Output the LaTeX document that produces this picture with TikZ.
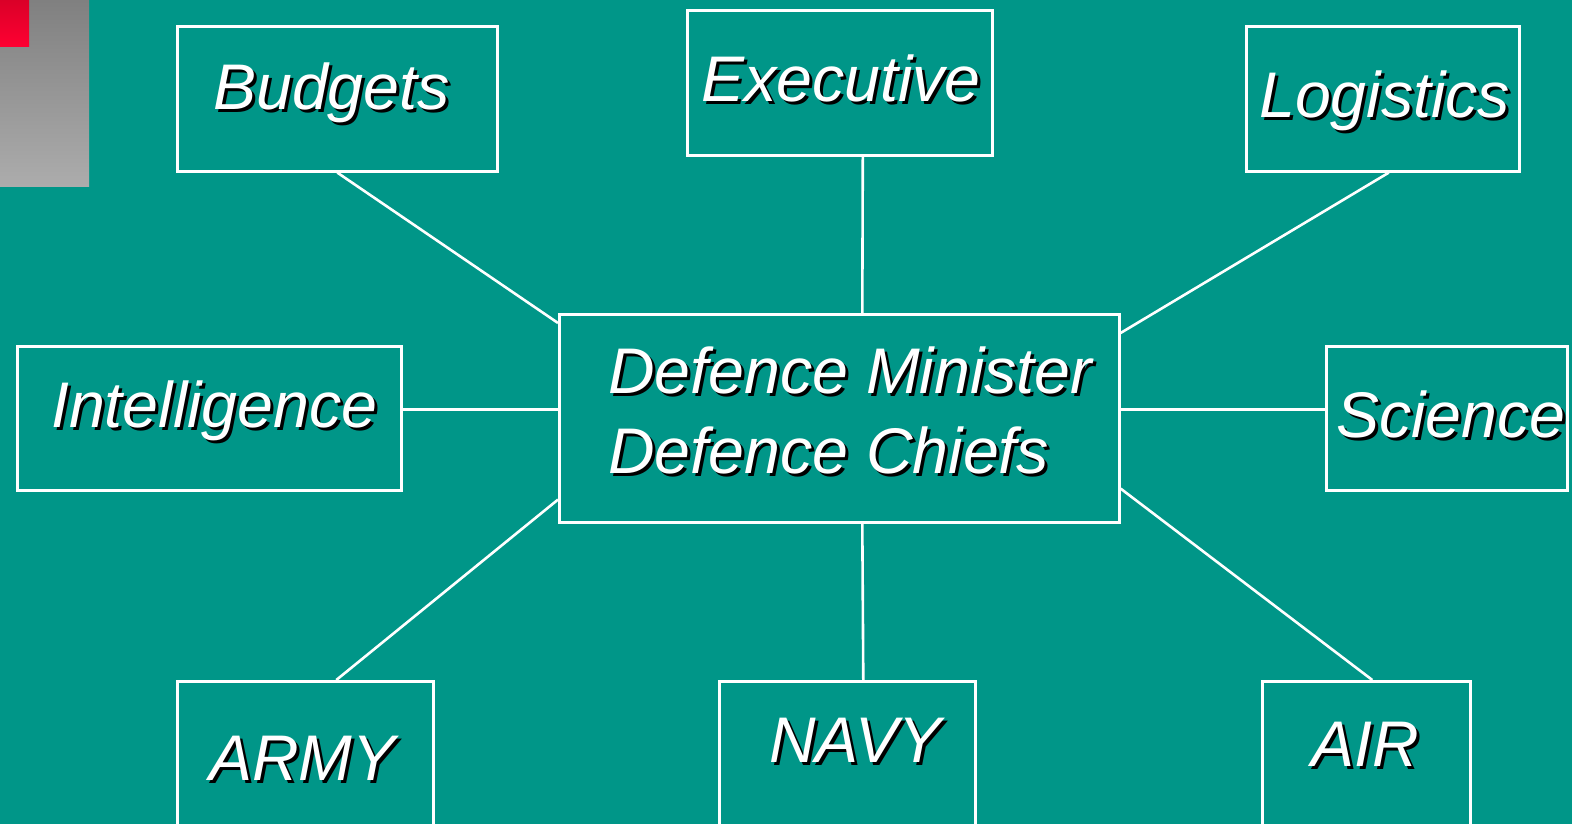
\documentclass[tikz,border=0pt]{standalone}
\usepackage{fontspec}
\setmainfont{Liberation Sans}
\definecolor{teal0}{RGB}{0,150,136}
\definecolor{redtop}{RGB}{218,0,40}
\definecolor{redbot}{RGB}{255,0,50}
\definecolor{graytop}{RGB}{128,128,128}
\definecolor{graybot}{RGB}{172,172,172}
\newcommand\bigfont{\fontsize{64.5}{76}\selectfont\itshape}
\newcommand\shd[1]{\makebox[0pt][l]{\kern3pt\raisebox{-3pt}{\color{black}#1}}#1}
\tikzset{
  box/.style={draw=white, line width=2.6pt, anchor=north west, inner sep=0pt},
  conn/.style={draw=white, line width=2.6pt},
  lbl/.style={anchor=base west, inner sep=0pt, text=white, font=\bigfont}
}
\begin{document}
\begin{tikzpicture}[x=1pt,y=-1pt]
\useasboundingbox (0,0) rectangle (1572,824);
\clip (0,0) rectangle (1572,824);
\fill[teal0] (0,0) rectangle (1572,824);
\shade[top color=graytop, bottom color=graybot] (0,0) rectangle (89,186);
\shade[top color=redtop, bottom color=redbot] (0,0) rectangle (29,47);
% boxes
\node[box, minimum width=320pt, minimum height=145pt] (bud) at (176,25) {};
\node[box, minimum width=305pt, minimum height=145pt] (exe) at (686,9) {};
\node[box, minimum width=273pt, minimum height=145pt] (log) at (1245,25) {};
\node[box, minimum width=384pt, minimum height=144pt] (int) at (16,345) {};
\node[box, minimum width=560pt, minimum height=208pt] (ctr) at (558,313) {};
\node[box, minimum width=241pt, minimum height=144pt] (sci) at (1325,345) {};
\node[box, minimum width=256pt, minimum height=170pt] (army) at (176,680) {};
\node[box, minimum width=256pt, minimum height=170pt] (navy) at (718,680) {};
\node[box, minimum width=208pt, minimum height=170pt] (air) at (1261,680) {};
% connectors
\draw[conn] (bud.south) -- ([yshift=-10pt]ctr.north west);
\draw[conn] ([xshift=23pt]exe.south) -- ([xshift=23pt]ctr.north);
\draw[conn] ([xshift=6pt]log.south) -- ([yshift=-20pt]ctr.north east);
\draw[conn] ([yshift=9pt]int.east) -- ([yshift=9pt]ctr.west);
\draw[conn] ([yshift=9pt]sci.west) -- ([yshift=9pt]ctr.east);
\draw[conn] ([xshift=31pt]army.north) -- ([yshift=24pt]ctr.south west);
\draw[conn] ([xshift=16pt]navy.north) -- ([xshift=23pt]ctr.south);
\draw[conn] ([xshift=6pt]air.north) -- ([yshift=35pt]ctr.south east);
% labels
\node[lbl] (tbud) at (213,110) {\shd{Budgets}};
\node[lbl] (texe) at (701,102) {\shd{Executive}};
\node[lbl] (tlog) at (1259,118) {\shd{Logistics}};
\node[lbl] (tint) at (51,427) {\shd{Intelligence}};
\node[lbl] (tc1) at (608,393) {\shd{Defence Minister}};
\node[lbl] (tc2) at (608,473) {\shd{Defence Chiefs}};
\node[lbl] (tsci) at (1336,437) {\shd{Science}};
\node[lbl] (tarmy) at (209,780) {\shd{ARMY}};
\node[lbl] (tnavy) at (769,762) {\shd{NAVY}};
\node[lbl] (tair) at (1311,766) {\shd{AIR}};
\end{tikzpicture}
\end{document}
